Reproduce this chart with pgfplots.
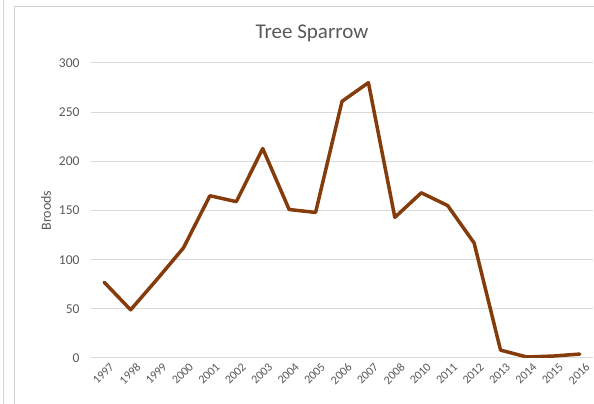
\documentclass[border=0pt]{standalone}
\usepackage{fontspec}
\setmainfont{Carlito}
\usepackage{pgfplots}
\pgfplotsset{compat=1.18}
\definecolor{sparrow}{RGB}{132,60,12}
\definecolor{txtgray}{RGB}{89,89,89}
\definecolor{gridgray}{RGB}{217,217,217}
\definecolor{framegray}{RGB}{210,210,210}
\begin{document}
\begin{tikzpicture}
  % page frame, 1px = 1pt
  \path[use as bounding box] (0pt,0pt) rectangle (594pt,404pt);
  \draw[framegray, line width=1pt] (3pt,0pt) -- (3pt,404pt);
  \draw[framegray, line width=1pt] (14pt,0pt) -- (14pt,397pt) -- (594pt,397pt);
  \node[txtgray, font=\fontsize{21}{24}\selectfont] at (312pt,371pt) {Tree Sparrow};
  \begin{axis}[
      at={(91pt,46pt)}, anchor=south west,
      scale only axis,
      width=502pt, height=295pt,
      xmin=-0.5, xmax=18.5,
      ymin=0, ymax=300,
      ytick={0,50,...,300},
      xtick={0,...,18},
      xticklabels={1997,1998,1999,2000,2001,2002,2003,2004,2005,2006,2007,2008,2010,2011,2012,2013,2014,2015,2016},
      axis line style={draw=none},
      tick style={draw=none},
      ymajorgrids,
      grid style={gridgray, line width=1pt},
      /pgf/number format/assume math mode=true,
      ticklabel style={txtgray, font=\fontsize{13.5}{15}\selectfont},
      yticklabel style={xshift=-8pt},
      xticklabel style={rotate=45, anchor=north east, xshift=4pt, yshift=-3pt, font=\fontsize{12}{14}\selectfont},
      ylabel={Broods},
      every axis y label/.style={at={(axis description cs:0,0.5)}, xshift=-45pt, rotate=90, anchor=center, txtgray, font=\fontsize{14}{16}\selectfont},
    ]
    \addplot[sparrow, line width=3.5pt, line join=round, line cap=round] coordinates {
        (0,77) (1,49) (2,80) (3,112) (4,165) (5,159) (6,213) (7,151) (8,148)
        (9,261) (10,280) (11,143) (12,168) (13,155) (14,117) (15,8) (16,1) (17,2) (18,4)
      };
  \end{axis}
\end{tikzpicture}
\end{document}
